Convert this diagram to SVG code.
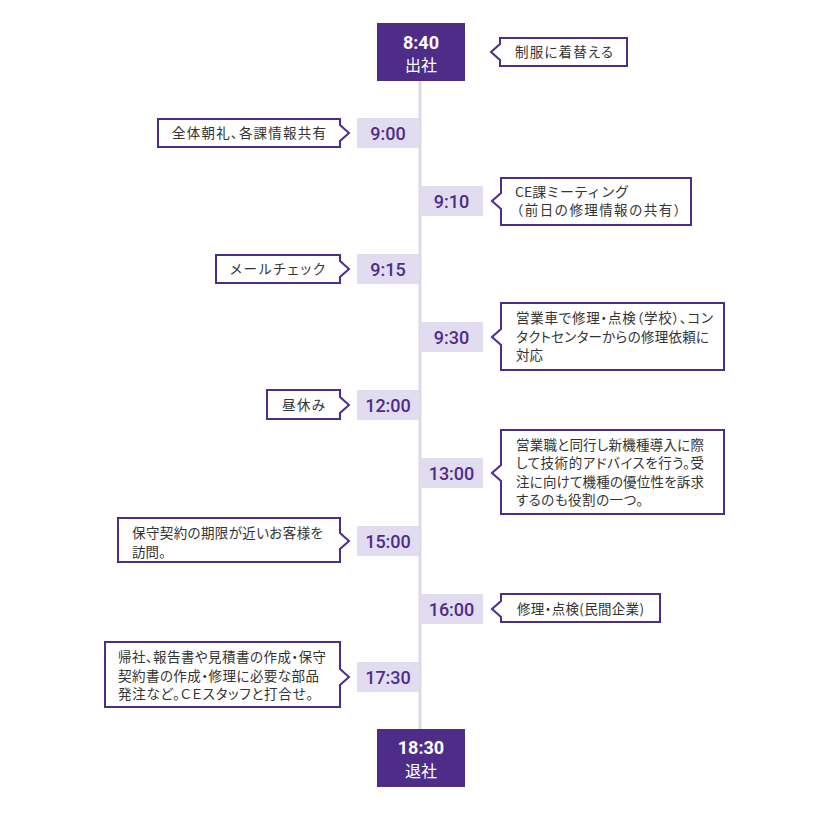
<svg xmlns="http://www.w3.org/2000/svg" width="840" height="818" viewBox="0 0 840 818">
<style>
.co{fill:#fff;stroke:#4e2d89;stroke-width:2;stroke-linejoin:miter}
.ct{font-family:"Noto Sans CJK JP","Noto Sans",sans-serif;font-size:13.5px;fill:#333;font-feature-settings:"palt"}
.np{font-feature-settings:normal}
.tl{fill:#e1dcef}
.tt{font-family:Roboto,"Noto Sans",sans-serif;font-weight:500;font-size:18px;fill:#4e2d89;text-anchor:middle}
.mb{fill:#4e2d89}
.mt{font-family:Roboto,"Noto Sans",sans-serif;font-weight:700;font-size:18px;fill:#fff;text-anchor:middle}
.mj{font-family:"Noto Sans CJK JP",sans-serif;font-size:16px;fill:#fff;text-anchor:middle}
</style>
<g id="connectors">
<line x1="420" y1="81" x2="420" y2="729" stroke="#ddd8ea" stroke-width="3"/>
</g>
<g id="start">
<rect class="mb" x="377" y="23" width="88" height="58"/>
<text class="mt" x="421" y="48.5">8:40</text>
<text class="mj" x="421" y="71">出社</text>
</g>
<g id="c0840">
<path class="co" d="M500,38 H627 V66 H500 V60 L491,52 L500,44 Z"/>
<text class="ct" x="515" y="57" textLength="98" lengthAdjust="spacing">制服に着替える</text>
</g>
<g id="t0900">
<rect class="tl" x="357" y="118" width="62" height="30"/>
<text class="tt" x="388" y="139.5">9:00</text>
</g>
<g id="c0900">
<path class="co" d="M158,119 H340 V125 L349,133 L340,141 V147 H158 Z"/>
<text class="ct" x="172" y="138" textLength="154" lengthAdjust="spacing">全体朝礼、各課情報共有</text>
</g>
<g id="t0910">
<rect class="tl" x="420" y="186" width="63" height="30"/>
<text class="tt" x="451.5" y="207.5">9:10</text>
</g>
<g id="c0910">
<path class="co" d="M501,178 H691 V225 H501 V209 L492,201 L501,193 Z"/>
<text class="ct np" x="515" y="196.5" textLength="114" lengthAdjust="spacingAndGlyphs">CE課ミーティング</text>
<text class="ct np" x="510" y="215" textLength="177" lengthAdjust="spacing">（前日の修理情報の共有）</text>
</g>
<g id="t0915">
<rect class="tl" x="357" y="254" width="62" height="30"/>
<text class="tt" x="388" y="275.5">9:15</text>
</g>
<g id="c0915">
<path class="co" d="M216,255 H340 V261 L349,269 L340,277 V283 H216 Z"/>
<text class="ct" x="230" y="274" textLength="95" lengthAdjust="spacing">メールチェック</text>
</g>
<g id="t0930">
<rect class="tl" x="420" y="322" width="63" height="30"/>
<text class="tt" x="451.5" y="343.5">9:30</text>
</g>
<g id="c0930">
<path class="co" d="M501,303 H724 V370 H501 V345 L492,337 L501,329 Z"/>
<text class="ct" x="516" y="323" textLength="197" lengthAdjust="spacing">営業車で修理・点検（学校）、コン</text>
<text class="ct" x="516" y="341.5" textLength="193" lengthAdjust="spacing">タクトセンターからの修理依頼に</text>
<text class="ct" x="516" y="360">対応</text>
</g>
<g id="t1200">
<rect class="tl" x="357" y="390" width="62" height="30"/>
<text class="tt" x="388" y="411.5">12:00</text>
</g>
<g id="c1200">
<path class="co" d="M267,390 H340 V397 L349,405 L340,413 V419 H267 Z"/>
<text class="ct" x="282" y="409.5" textLength="43" lengthAdjust="spacing">昼休み</text>
</g>
<g id="t1300">
<rect class="tl" x="420" y="458" width="63" height="30"/>
<text class="tt" x="451.5" y="479.5">13:00</text>
</g>
<g id="c1300">
<path class="co" d="M501,430 H724 V514 H501 V481 L492,473 L501,465 Z"/>
<text class="ct" x="516" y="449.5" textLength="188" lengthAdjust="spacing">営業職と同行し新機種導入に際</text>
<text class="ct" x="516" y="468" textLength="188" lengthAdjust="spacing">して技術的アドバイスを行う。受</text>
<text class="ct" x="516" y="486.5" textLength="188" lengthAdjust="spacing">注に向けて機種の優位性を訴求</text>
<text class="ct" x="516" y="505" textLength="127" lengthAdjust="spacing">するのも役割の一つ。</text>
</g>
<g id="t1500">
<rect class="tl" x="357" y="526" width="62" height="30"/>
<text class="tt" x="388" y="547.5">15:00</text>
</g>
<g id="c1500">
<path class="co" d="M118,518 H340 V533 L349,541 L340,549 V562 H118 Z"/>
<text class="ct" x="132" y="538" textLength="191" lengthAdjust="spacing">保守契約の期限が近いお客様を</text>
<text class="ct" x="132" y="556.5">訪問。</text>
</g>
<g id="t1600">
<rect class="tl" x="420" y="594" width="63" height="30"/>
<text class="tt" x="451.5" y="615.5">16:00</text>
</g>
<g id="c1600">
<path class="co" d="M501,594 H660 V622 H501 V617 L492,609 L501,601 Z"/>
<text class="ct" x="517" y="613.5" textLength="127" lengthAdjust="spacing">修理・点検(民間企業)</text>
</g>
<g id="t1730">
<rect class="tl" x="357" y="662" width="62" height="30"/>
<text class="tt" x="388" y="683.5">17:30</text>
</g>
<g id="c1730">
<path class="co" d="M105,642 H340 V669 L349,677 L340,685 V707 H105 Z"/>
<text class="ct" x="118" y="662" textLength="208" lengthAdjust="spacing">帰社、報告書や見積書の作成・保守</text>
<text class="ct" x="118" y="680.5" textLength="201" lengthAdjust="spacing">契約書の作成・修理に必要な部品</text>
<text class="ct" x="118" y="699" textLength="195" lengthAdjust="spacing">発注など。ＣＥスタッフと打合せ。</text>
</g>
<g id="end">
<rect class="mb" x="377" y="729" width="88" height="58"/>
<text class="mt" x="421" y="754">18:30</text>
<text class="mj" x="421" y="777">退社</text>
</g>
</svg>
